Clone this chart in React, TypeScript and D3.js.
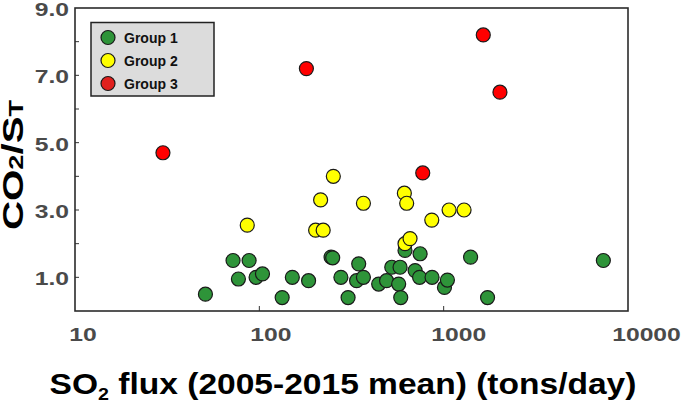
import React from "react";
import * as d3 from "d3";

// Group 1 (green)
const g1X = [51, 72, 77, 88, 96, 104, 133, 151, 185, 245, 250, 277, 303, 337, 346, 367, 444, 490, 523, 580, 570, 585, 617, 700, 740, 745, 865, 1010, 1048, 1400, 1730, 7350];
const g1Y = [0.5, 1.5, 0.95, 1.5, 1.0, 1.1, 0.4, 1.0, 0.9, 1.6, 1.58, 1.0, 0.4, 0.9, 1.4, 1.0, 0.8, 0.9, 1.3, 1.3, 0.8, 0.4, 1.8, 1.2, 1.0, 1.7, 1.0, 0.7, 0.92, 1.6, 0.4, 1.5];

// Group 2 (yellow)
const g2X = [86, 202, 215, 222, 252, 367, 612, 617, 630, 657, 862, 1070, 1290];
const g2Y = [2.55, 2.4, 3.3, 2.4, 4.0, 3.2, 3.5, 2.0, 3.2, 2.15, 2.7, 3.0, 3.0];

// Group 3 (red)
const g3X = [30, 180, 770, 1640, 2020];
const g3Y = [4.7, 7.2, 4.1, 8.2, 6.5];

const groupNames = ["Group 1", "Group 2", "Group 3"];
const groupColors = ["#2e9439", "#ffff00", "#ff0000"];
const legendColors = ["#2e9439", "#ffff00", "#e0201e"];

const xTicks = [10, 100, 1000, 10000];
const yTicks = [1, 3, 5, 7, 9];
const yMinor = [1, 2, 3, 4, 5, 6, 7, 8];

const W = 685;
const H = 403;

export default function App() {
  const x = d3.scaleLog().domain([10, 10000]).range([75, 628]);
  const y = d3.scaleLinear().domain([0, 9]).range([311, 8]);

  const groups = [
    g1X.map((v, i) => [v, g1Y[i]]),
    g2X.map((v, i) => [v, g2Y[i]]),
    g3X.map((v, i) => [v, g3Y[i]]),
  ];

  const tickFont = { fontFamily: "Liberation Sans, Arial, sans-serif", fontWeight: 700, fontSize: 19, fill: "#4a4a4a" };
  const titleFont = { fontFamily: "Liberation Sans, Arial, sans-serif", fontWeight: 700, fill: "#000" };

  return (
    <svg width={W} height={H} style={{ position: "absolute", left: 0, top: 0, background: "#fff" }}>
      {/* ticks inside the frame */}
      {yMinor.map((t) => (
        <line key={"yt" + t} x1={x(10)} x2={x(10) + 4} y1={y(t)} y2={y(t)} stroke="#333" strokeWidth={1} />
      ))}
      {xTicks.slice(1, -1).map((t) => (
        <line key={"xt" + t} x1={x(t)} x2={x(t)} y1={y(0)} y2={y(0) - 5} stroke="#333" strokeWidth={1} />
      ))}

      {/* points */}
      {groups.map((pts, gi) =>
        pts.map((p, i) => (
          <circle key={gi + "-" + i} cx={x(p[0])} cy={y(p[1])} r={7} fill={groupColors[gi]} stroke="#1a1a1a" strokeWidth={1.2} />
        ))
      )}

      {/* frame */}
      <rect x={x(10)} y={y(9)} width={x(10000) - x(10)} height={y(0) - y(9)} fill="none" stroke="#2b2b2b" strokeWidth={1.6} />

      {/* y tick labels */}
      {yTicks.map((t) => (
        <text key={"yl" + t} transform={`translate(69,${y(t) + 1.5}) scale(1.3,1)`} textAnchor="end" dominantBaseline="central" {...tickFont}>
          {t.toFixed(1)}
        </text>
      ))}

      {/* x tick labels */}
      {xTicks.map((t) => {
        const s = String(t);
        return (
          <text key={"xl" + t} transform={`translate(${x(t) + 1 + 3.5 * s.length},341) scale(1.3,1)`} textAnchor="middle" {...tickFont}>
            {s}
          </text>
        );
      })}

      {/* x title */}
      <text transform="translate(343,394) scale(1.157,1)" textAnchor="middle" fontSize={29} {...titleFont}>
        SO<tspan fontSize={17} dy={6}>2</tspan>
        <tspan dy={-6}> flux (2005-2015 mean) (tons/day)</tspan>
      </text>

      {/* y title */}
      <text transform="translate(23,165) rotate(-90) scale(1.39,1)" textAnchor="middle" fontSize={29} {...titleFont}>
        CO<tspan fontSize={19.5}>2</tspan>/S<tspan fontSize={19.5}>T</tspan>
      </text>

      {/* legend */}
      <rect x={91} y={22.5} width={123} height={73.5} fill="#dcdcdc" stroke="#222" strokeWidth={1.5} />
      {groupNames.map((name, i) => (
        <g key={name} transform={`translate(108,${37.5 + i * 23})`}>
          <circle r={7} fill={legendColors[i]} stroke="#1a1a1a" strokeWidth={1.2} />
          <text x={16} y={5} fontFamily="Liberation Sans, Arial, sans-serif" fontWeight={700} fontSize={14} fill="#111">
            {name}
          </text>
        </g>
      ))}
    </svg>
  );
}
